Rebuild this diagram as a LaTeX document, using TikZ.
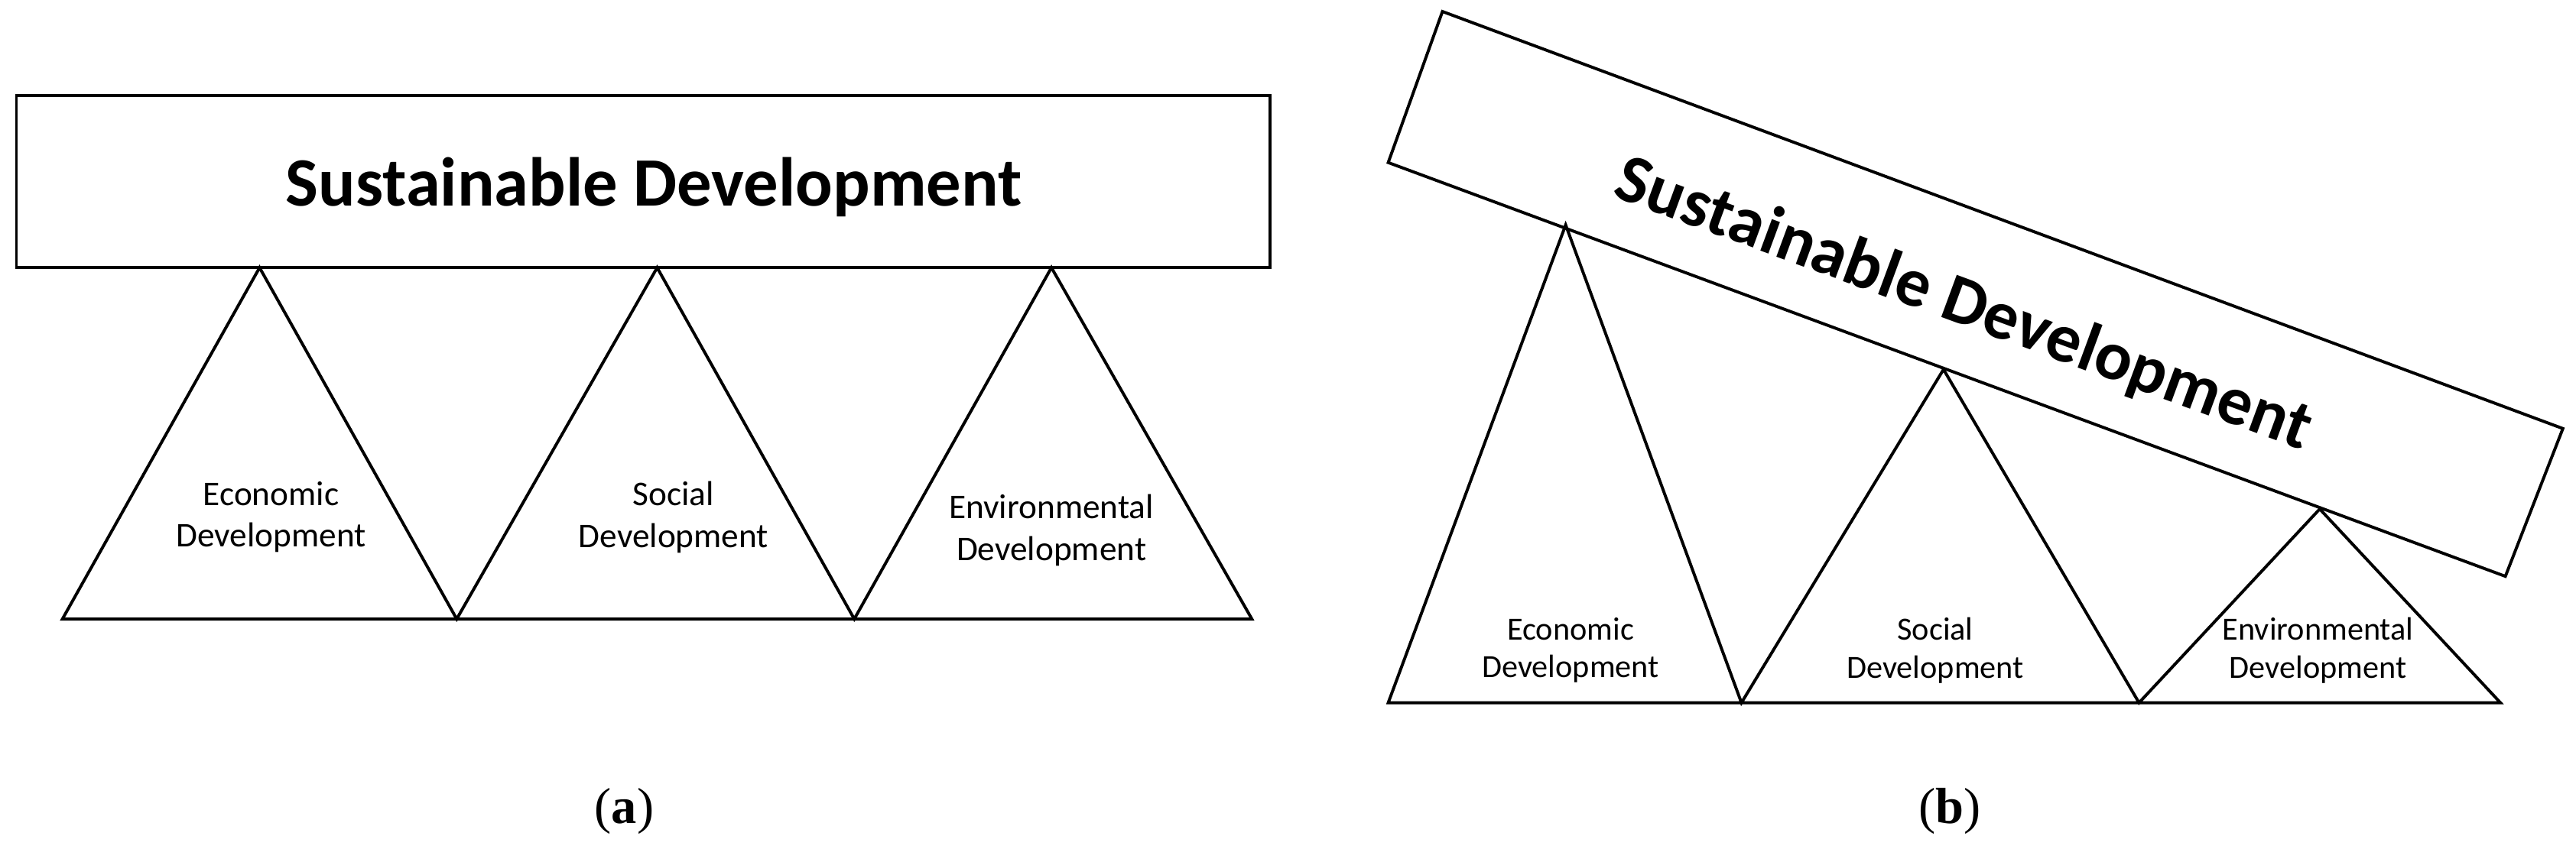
\documentclass[tikz,border=0pt]{standalone}
\usepackage{fontspec}
\setmainfont{Carlito}
\newfontfamily\capfont{Liberation Serif}
\begin{document}
\begin{tikzpicture}[x=0.05cm,y=-0.05cm,line width=2.6pt,line join=miter,
  lbl/.style={align=center,font=\fontsize{30}{36}\selectfont},
  lblb/.style={align=center,font=\fontsize{28}{33}\selectfont},
  ttl/.style={font=\fontsize{60}{72}\selectfont\bfseries},
  subcap/.style={font=\capfont\fontsize{44}{52}\selectfont}]
\useasboundingbox (0,0) rectangle (1568,517);
% (a)
\draw (10,58) rectangle (773,163);
\node[ttl] (ta) at (398,114) {Sustainable Development};
\draw (38,377) -- (158,163) -- (278,377) -- (400,163) -- (520,377) -- (640,163) -- (762,377) -- cycle;
\draw (278,377) -- (520,377);
\node[lbl] (a1) at (165,315) {Economic\\Development};
\node[lbl] (a2) at (410,315) {Social\\Development};
\node[lbl] (a3) at (640,323) {Environmental\\Development};
\node[subcap] (ca) at (380,494) {(\textbf{a})};
% (b)
\draw (878,7) -- (1560,261) -- (1525,351) -- (845,99) -- cycle;
\node[ttl,rotate=-20.2] (tb) at (1195,186) {Sustainable Development};
\draw (845,428) -- (953,137) -- (1060,428) -- (1183,225) -- (1302,428) -- (1412,310) -- (1522,428) -- cycle;
\node[lblb] (b1) at (956,396) {Economic\\Development};
\node[lblb] (b2) at (1178,396) {Social\\Development};
\node[lblb] (b3) at (1411,396) {Environmental\\Development};
\node[subcap] (cb) at (1187,494) {(\textbf{b})};
\end{tikzpicture}
\end{document}
